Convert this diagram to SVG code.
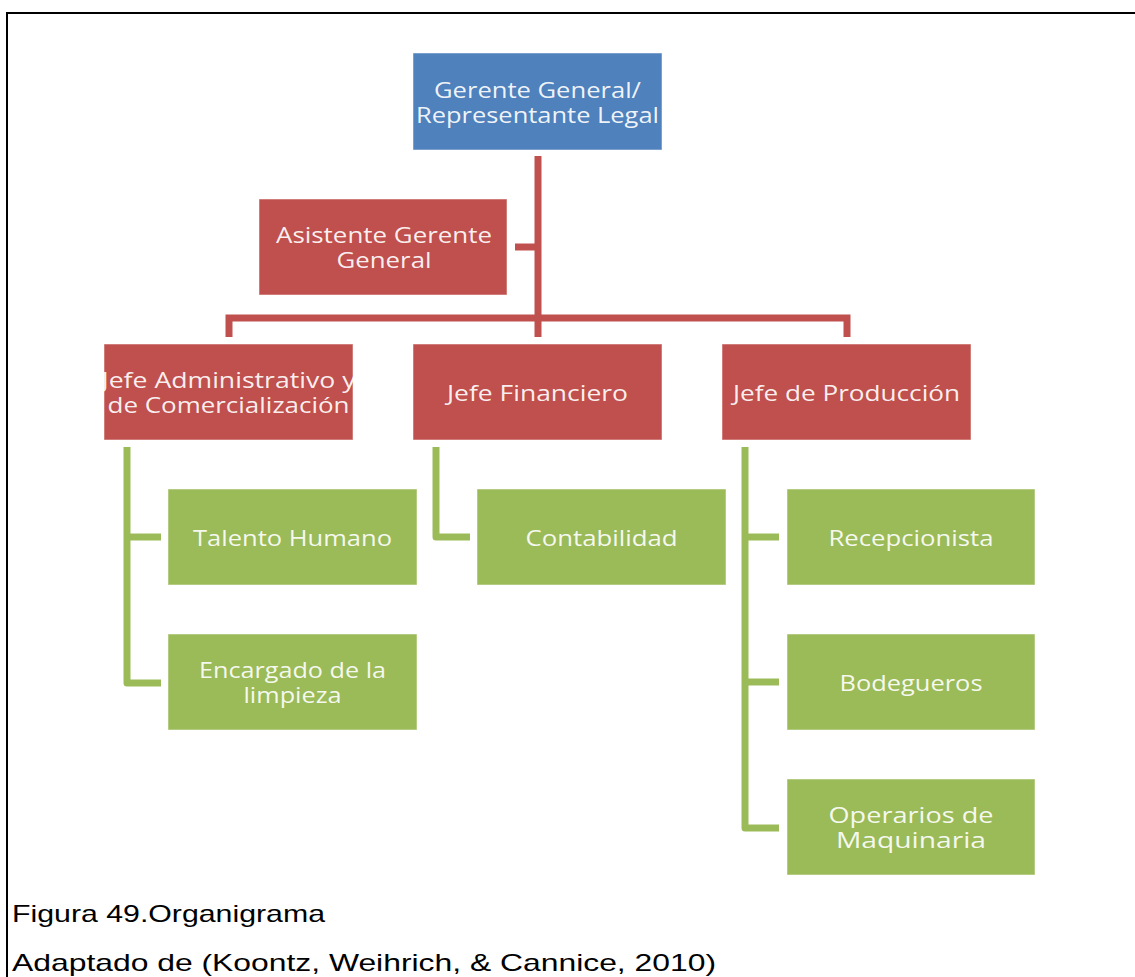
<svg xmlns="http://www.w3.org/2000/svg" width="1135" height="977" viewBox="0 0 1135 977">
  <style>
    .box { stroke: #ffffff; stroke-opacity: 0.5; stroke-width: 1; }
    .blue { fill: #4F81BD; }
    .red { fill: #C0504D; }
    .green { fill: #9BBB59; }
    .lbl { font-family: "Open Sans", "Noto Sans", sans-serif; font-size: 21px; fill: #ffffff; fill-opacity: 0.92; text-anchor: middle; }
    .red-line { fill: none; stroke: #C0504D; stroke-width: 7; }
    .green-line { fill: none; stroke: #9BBB59; stroke-width: 7; stroke-linejoin: round; }
    .caption { font-family: "Liberation Sans", Arial, sans-serif; font-size: 24px; fill: #000000; }
  </style>

  <rect width="1135" height="977" fill="#ffffff"/>

  <!-- frame: top and left rule -->
  <path d="M7 977 V13 H1135" fill="none" stroke="#000000" stroke-width="2"/>

  <!-- connectors -->
  <g id="connectors">
    <path class="red-line" d="M538 156 V337"/>
    <path class="red-line" d="M515 247 H538"/>
    <path class="red-line" d="M229 337 V318 H847 V337"/>
    <path class="green-line" d="M127 447 V683 H161 M127 537 H161"/>
    <path class="green-line" d="M436 447 V537 H470"/>
    <path class="green-line" d="M745 447 V828 H779 M745 537 H779 M745 682 H779"/>
  </g>

  <g id="gerente-general">
    <rect class="box blue" x="413" y="53" width="249" height="97"/>
    <text class="lbl" x="537.5" y="98" textLength="207" lengthAdjust="spacingAndGlyphs">Gerente General/</text>
    <text class="lbl" x="537.5" y="123" textLength="243" lengthAdjust="spacingAndGlyphs">Representante Legal</text>
  </g>

  <g id="asistente">
    <rect class="box red" x="259" y="199" width="248" height="96"/>
    <text class="lbl" x="384" y="243" textLength="216" lengthAdjust="spacingAndGlyphs">Asistente Gerente</text>
    <text class="lbl" x="384" y="268" textLength="95" lengthAdjust="spacingAndGlyphs">General</text>
  </g>

  <g id="jefe-administrativo">
    <rect class="box red" x="104" y="344" width="249" height="96"/>
    <text class="lbl" x="228.5" y="388" textLength="254" lengthAdjust="spacingAndGlyphs">Jefe Administrativo y</text>
    <text class="lbl" x="228.5" y="413" textLength="242" lengthAdjust="spacingAndGlyphs">de Comercialización</text>
  </g>

  <g id="jefe-financiero">
    <rect class="box red" x="413" y="344" width="249" height="96"/>
    <text class="lbl" x="537.5" y="401" textLength="181" lengthAdjust="spacingAndGlyphs">Jefe Financiero</text>
  </g>

  <g id="jefe-produccion">
    <rect class="box red" x="722" y="344" width="249" height="96"/>
    <text class="lbl" x="846.5" y="401" textLength="227" lengthAdjust="spacingAndGlyphs">Jefe de Producción</text>
  </g>

  <g id="talento-humano">
    <rect class="box green" x="168" y="489" width="249" height="96"/>
    <text class="lbl" x="292.5" y="546" textLength="199" lengthAdjust="spacingAndGlyphs">Talento Humano</text>
  </g>

  <g id="encargado-limpieza">
    <rect class="box green" x="168" y="634" width="249" height="96"/>
    <text class="lbl" x="292.5" y="678" textLength="187" lengthAdjust="spacingAndGlyphs">Encargado de la</text>
    <text class="lbl" x="292.5" y="703" textLength="98" lengthAdjust="spacingAndGlyphs">limpieza</text>
  </g>

  <g id="contabilidad">
    <rect class="box green" x="477" y="489" width="249" height="96"/>
    <text class="lbl" x="601.5" y="546" textLength="152" lengthAdjust="spacingAndGlyphs">Contabilidad</text>
  </g>

  <g id="recepcionista">
    <rect class="box green" x="787" y="489" width="248" height="96"/>
    <text class="lbl" x="911" y="546" textLength="165" lengthAdjust="spacingAndGlyphs">Recepcionista</text>
  </g>

  <g id="bodegueros">
    <rect class="box green" x="787" y="634" width="248" height="96"/>
    <text class="lbl" x="911" y="691" textLength="143" lengthAdjust="spacingAndGlyphs">Bodegueros</text>
  </g>

  <g id="operarios">
    <rect class="box green" x="787" y="779" width="248" height="96"/>
    <text class="lbl" x="911" y="823" textLength="165" lengthAdjust="spacingAndGlyphs">Operarios de</text>
    <text class="lbl" x="911" y="848" textLength="150" lengthAdjust="spacingAndGlyphs">Maquinaria</text>
  </g>

  <g id="caption">
    <text class="caption" x="12" y="922" textLength="313" lengthAdjust="spacingAndGlyphs">Figura 49.Organigrama</text>
    <text class="caption" x="12" y="971" textLength="704" lengthAdjust="spacingAndGlyphs">Adaptado de (Koontz, Weihrich, &amp; Cannice, 2010)</text>
  </g>
</svg>
